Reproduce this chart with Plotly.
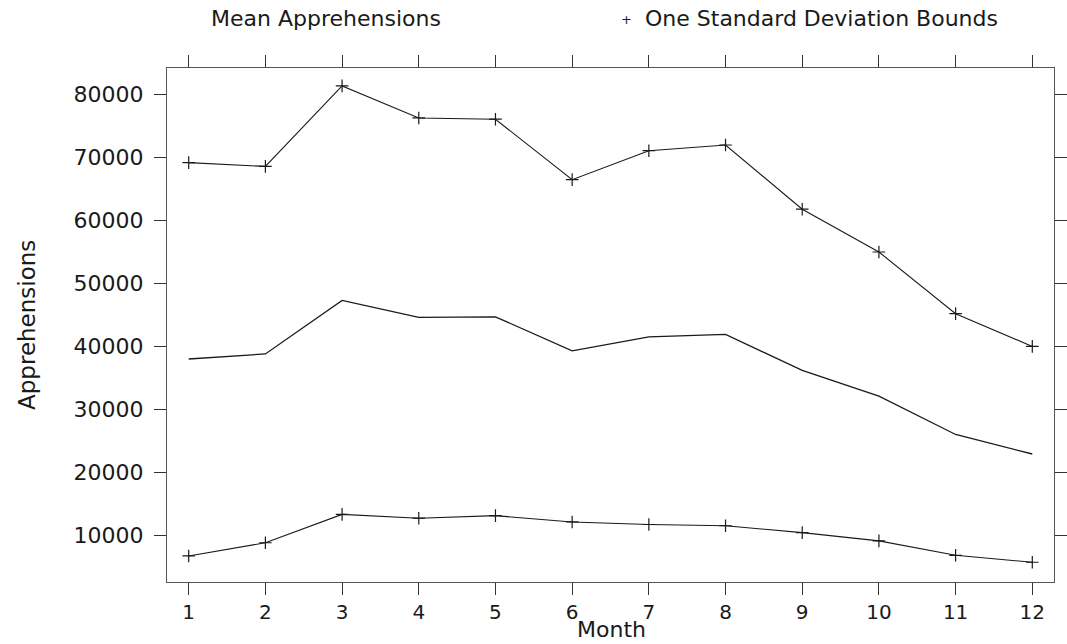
import plotly.graph_objects as go

# Monthly apprehension statistics
months = [1, 2, 3, 4, 5, 6, 7, 8, 9, 10, 11, 12]
mean_apprehensions = [38000, 38800, 47300, 44600, 44700, 39300, 41500, 41900, 36200, 32100, 26000, 22900]
upper_bound = [69200, 68600, 81400, 76300, 76100, 66500, 71100, 72000, 61800, 55000, 45200, 40000]
lower_bound = [6700, 8800, 13300, 12700, 13100, 12100, 11700, 11500, 10400, 9100, 6800, 5700]

y_tick_values = [10000, 20000, 30000, 40000, 50000, 60000, 70000, 80000]
y_tick_labels = [str(v) for v in y_tick_values]
x_tick_labels = [str(m) for m in months]

FONT = "DejaVu Sans"
INK = "#1a1a1a"

# Plot-area geometry in pixels (used to place the paper-referenced text)
W, H = 1067, 644
L, R, T, B = 167, 13, 68, 62
PW, PH = W - L - R, H - T - B


def px_x(x):
    return (x - L) / PW


def px_y(y):
    return 1 - (y - T) / PH


fig = go.Figure()

bound_style = dict(
    mode="lines+markers",
    line=dict(color=INK, width=1.1),
    marker=dict(symbol="cross-thin", size=9, line=dict(color=INK, width=1.2)),
    showlegend=False,
    hoverinfo="x+y",
)

fig.add_trace(go.Scatter(x=months, y=upper_bound, name="Upper bound", **bound_style))
fig.add_trace(go.Scatter(x=months, y=lower_bound, name="Lower bound", **bound_style))
fig.add_trace(go.Scatter(
    x=months, y=mean_apprehensions, name="Mean Apprehensions",
    mode="lines", line=dict(color=INK, width=1.3), showlegend=False,
))

axis_common = dict(
    showline=True, linecolor="#555555", linewidth=1, mirror="ticks",
    ticks="outside", ticklen=12, tickwidth=1, tickcolor="#333333",
    showgrid=False, zeroline=False, automargin=False,
)

fig.update_xaxes(
    range=[0.717, 12.283],
    tickvals=months, ticktext=x_tick_labels,
    tickfont=dict(family=FONT, size=20, color=INK),
    **axis_common,
)
fig.update_yaxes(
    range=[2560, 84240],
    tickvals=y_tick_values, ticktext=y_tick_labels,
    ticklabelstandoff=6,
    tickfont=dict(family=FONT, size=22, color=INK),
    **axis_common,
)

# Axis titles and key along the top
fig.add_annotation(
    text="Month",
    xref="paper", yref="paper", x=px_x(611), y=px_y(629),
    xanchor="center", yanchor="middle", showarrow=False,
    font=dict(family=FONT, size=22, color=INK),
)
fig.add_annotation(
    text="Apprehensions", textangle=-90,
    xref="paper", yref="paper", x=px_x(27), y=0.5,
    xanchor="center", yanchor="middle", showarrow=False,
    font=dict(family=FONT, size=23, color=INK),
)
fig.add_annotation(
    text="Mean Apprehensions",
    xref="paper", yref="paper", x=px_x(326), y=px_y(19),
    xanchor="center", yanchor="middle", showarrow=False,
    font=dict(family=FONT, size=22, color=INK),
)
fig.add_annotation(
    text="+",
    xref="paper", yref="paper", x=px_x(626), y=px_y(20),
    xanchor="center", yanchor="middle", showarrow=False,
    font=dict(family=FONT, size=13, color=INK),
)
fig.add_annotation(
    text="One Standard Deviation Bounds",
    xref="paper", yref="paper", x=px_x(821), y=px_y(19),
    xanchor="center", yanchor="middle", showarrow=False,
    font=dict(family=FONT, size=22, color=INK),
)

fig.update_layout(
    width=W, height=H,
    margin=dict(l=L, r=R, t=T, b=B),
    paper_bgcolor="white", plot_bgcolor="white",
    font=dict(family=FONT, color=INK),
)

fig.write_html("out.html")
